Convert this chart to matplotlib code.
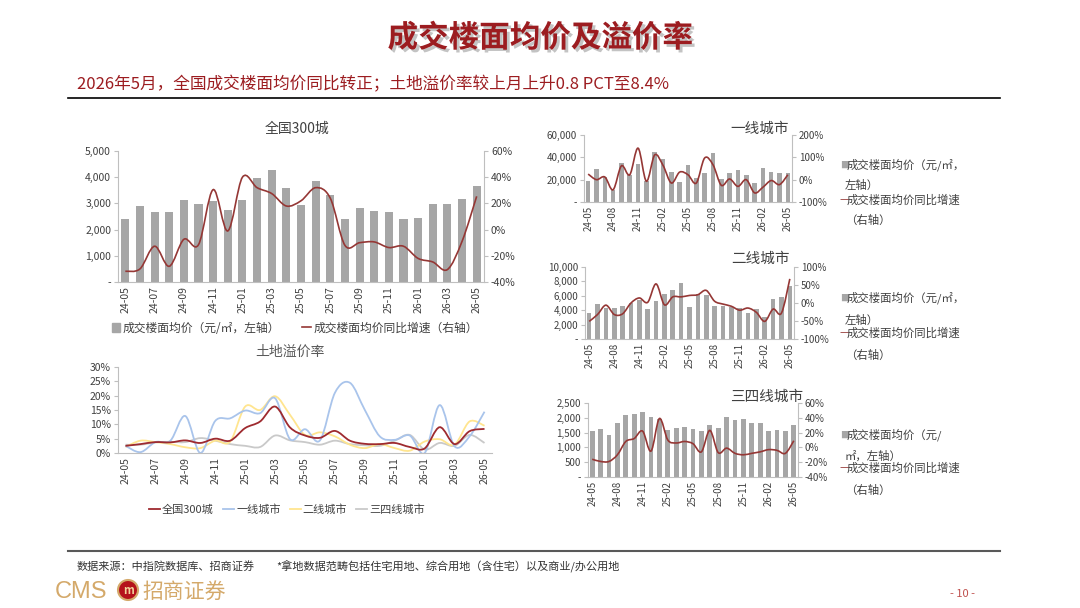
import numpy as np
import matplotlib.pyplot as plt
import matplotlib.patheffects as pe
from matplotlib.path import Path
from matplotlib.patches import PathPatch, Patch, Ellipse
from matplotlib.lines import Line2D

plt.rcParams['font.family'] = ['Noto Sans CJK SC', 'DejaVu Sans']

W, H = 1080, 608

months = ['24-05', '24-06', '24-07', '24-08', '24-09', '24-10', '24-11', '24-12',
          '25-01', '25-02', '25-03', '25-04', '25-05', '25-06', '25-07', '25-08',
          '25-09', '25-10', '25-11', '25-12', '26-01', '26-02', '26-03', '26-04', '26-05']

# 全国300城
nat_price = [2390, 2900, 2680, 2680, 3130, 2980, 3090, 2750, 3140, 3960, 4290, 3590, 2930,
             3850, 3310, 2390, 2820, 2700, 2660, 2390, 2460, 2980, 2980, 3180, 3660]
nat_yoy = [-31.8, -30, -12.7, -28, -7.4, -11.5, 30.5, -1, 40, 32, 27.5, 18, 22,
           32, 24, -12, -10, -9.4, -13.7, -12.7, -22, -24.7, -30.5, -9, 25.4]

# 一线城市
t1_price = [18400, 29700, 22000, 11000, 34800, 24400, 33900, 19000, 44600, 38600, 27300, 17800, 33300,
            21400, 25900, 43700, 20800, 25900, 28800, 23800, 17000, 30300, 27300, 25900, 25900]
t1_yoy = [25, 0, 12, -45, 62, 22, 141, -7, 111, 64, -15, 34, 22,
          -15, 97, 67, -25, 3, -30, 0, -59, -34, -4, -22, 22]

# 二线城市
t2_price = [3600, 4860, 4300, 4300, 4630, 5000, 5370, 4170, 5320, 6300, 6760, 7780, 4400,
            6200, 6100, 4540, 4540, 4440, 4300, 3600, 4100, 3050, 5600, 5830, 7400]
t2_yoy = [-51, -32, -6, -32, -30, 0, 14, 2, 53, -5, 17, 17, 21,
          23, 35, 5, -3, -9, -20, -14, -26, -51, -17, -28, 67]

# 三四线城市
t3_price = [1560, 1625, 1420, 1820, 2080, 2125, 2200, 2030, 1950, 1590, 1670, 1700, 1625,
            1540, 1750, 1670, 2030, 1920, 1965, 1820, 1840, 1560, 1590, 1560, 1750]
t3_yoy = [-16, -19, -19, -10, 8, 12, 22, -5, 39, 10, 6, 8, 5,
          -6, 23, -7, -1, -8, -10, -8, -6, -3, -4, -8, 9]

# 土地溢价率 (%)
prem_nat = [2.5, 3.1, 3.8, 3.7, 4.4, 3.5, 5.0, 4.3, 8.7, 11.0, 16.2, 8.9, 6.1,
            5.3, 7.7, 4.3, 3.2, 3.1, 3.5, 2.1, 1.6, 9.0, 3.1, 7.6, 8.4]
prem_t1 = [2.5, 0.3, 3.8, 4.3, 12.9, 0.0, 11.2, 12.1, 14.8, 13.9, 19.1, 4.8, 8.3,
           4.4, 21.0, 24.5, 15.0, 5.8, 4.6, 6.1, 0.0, 16.7, 2.3, 5.8, 14.4]
prem_t2 = [2.1, 4.3, 3.8, 3.1, 2.0, 1.7, 4.3, 4.0, 16.2, 15.0, 19.8, 13.3, 6.3,
           7.2, 5.8, 2.9, 1.7, 3.1, 1.7, 0.8, 4.0, 4.8, 2.9, 11.0, 9.5]
prem_t3 = [2.9, 2.9, 3.7, 3.9, 3.8, 5.2, 4.3, 3.1, 2.5, 2.1, 6.1, 4.4, 3.8,
           2.9, 4.3, 3.1, 2.7, 2.5, 4.3, 6.3, 1.2, 3.5, 2.5, 6.3, 3.5]

BAR = '#A6A6A6'
RED = '#953735'
TXT = '#404040'
SPINE = '#BFBFBF'


def rect(l, t, r, b):
    return [l / W, 1 - b / H, (r - l) / W, (b - t) / H]


def fx(x):
    return x / W


def fy(y):
    return 1 - y / H


def smooth_path(x, y):
    # Excel-style smoothed line drawn as cubic Bezier through the data points
    pts = np.column_stack([x, y]).astype(float)
    p = np.vstack([pts[0], pts, pts[-1]])
    verts = [pts[0]]
    codes = [Path.MOVETO]
    for i in range(len(pts) - 1):
        p0, p1, p2, p3 = p[i], p[i + 1], p[i + 2], p[i + 3]
        verts += [p1 + (p2 - p0) / 6, p2 - (p3 - p1) / 6, p2]
        codes += [Path.CURVE4] * 3
    return Path(verts, codes)


def style(ax, fs):
    for s in ['top', 'right']:
        ax.spines[s].set_visible(False)
    for s in ['left', 'bottom']:
        ax.spines[s].set_color(SPINE)
    ax.tick_params(axis='y', colors=SPINE, labelcolor=TXT, labelsize=fs, length=3, pad=2)
    ax.tick_params(axis='x', length=0, labelcolor=TXT, labelsize=fs, pad=3)


def bar_line(box, price, yoy, lticks, rticks, step, fs):
    ax = fig.add_axes(rect(*box))
    x = np.arange(len(months))
    ax.bar(x, price, width=0.55, color=BAR)
    ax.set_xlim(-0.5, len(months) - 0.5)
    ax.set_ylim(lticks[0], lticks[-1])
    ax.set_yticks(lticks)
    ax.set_yticklabels(['-' if v == 0 else f'{v:,}' for v in lticks])
    ax.set_xticks(x[::step])
    ax.set_xticklabels(months[::step], rotation=90)
    style(ax, fs)
    ax2 = ax.twinx()
    ax2.add_patch(PathPatch(smooth_path(x, yoy), fill=False, edgecolor=RED, lw=1.2))
    ax2.set_ylim(rticks[0], rticks[-1])
    ax2.set_yticks(rticks)
    ax2.set_yticklabels([f'{v}%' for v in rticks])
    for s in ['top', 'left', 'bottom']:
        ax2.spines[s].set_visible(False)
    ax2.spines['right'].set_color(SPINE)
    ax2.tick_params(axis='y', colors=SPINE, labelcolor=TXT, labelsize=fs, length=3, pad=2)
    return ax, ax2


fig = plt.figure(figsize=(10.8, 6.08), dpi=100)

# header
fig.text(0.5, fy(38), '成交楼面均价及溢价率', ha='center', va='center', fontsize=22,
         fontweight='bold', color='#9C1C20',
         path_effects=[pe.withSimplePatchShadow(offset=(2, -2), shadow_rgbFace='#888888', alpha=0.5)])
fig.text(fx(77), fy(85), '2026年5月，全国成交楼面均价同比转正；土地溢价率较上月上升0.8 PCT至8.4%',
         ha='left', va='center', fontsize=12, color='#9C1C20')
fig.add_artist(Line2D([fx(68), fx(1000)], [fy(98), fy(98)], color='black', lw=1.2))

# 全国300城
ax, ax2 = bar_line((118, 151, 484, 282), nat_price, nat_yoy,
                   [0, 1000, 2000, 3000, 4000, 5000], [-40, -20, 0, 20, 40, 60], 2, 7.5)
fig.text(fx(297), fy(129), '全国300城', ha='center', va='center', fontsize=10, color=TXT)
ax.legend([Patch(color=BAR), Line2D([], [], color=RED, lw=1.2)],
          ['成交楼面均价（元/㎡，左轴）', '成交楼面均价同比增速（右轴）'],
          ncol=2, loc='center left', bbox_to_anchor=(fx(112), fy(328)),
          bbox_transform=fig.transFigure, frameon=False, fontsize=8.5,
          handlelength=0.7, handleheight=0.7, handletextpad=0.2, columnspacing=1.9,
          borderpad=0, borderaxespad=0, labelcolor=TXT)

# 土地溢价率
axp = fig.add_axes(rect(118, 367, 492, 453))
x = np.arange(len(months))
series = [(prem_nat, '#9E2A2F', '全国300城'), (prem_t1, '#A9C4EB', '一线城市'),
          (prem_t2, '#FFE58F', '二线城市'), (prem_t3, '#C9C9C9', '三四线城市')]
for vals, c, name in series[::-1]:
    axp.add_patch(PathPatch(smooth_path(x, vals), fill=False, edgecolor=c, lw=1.3))
axp.set_xlim(-0.5, len(months) - 0.5)
axp.set_ylim(0, 30)
axp.set_yticks([0, 5, 10, 15, 20, 25, 30])
axp.set_yticklabels([f'{v}%' for v in [0, 5, 10, 15, 20, 25, 30]])
axp.set_xticks(x[::2])
axp.set_xticklabels(months[::2], rotation=90)
style(axp, 7.5)
fig.text(fx(290), fy(352), '土地溢价率', ha='center', va='center', fontsize=10, color='#595959')
axp.legend([Line2D([], [], color=c, lw=1.3) for _, c, _ in series], [n for _, _, n in series],
           ncol=4, loc='center', bbox_to_anchor=(fx(287), fy(510)), bbox_transform=fig.transFigure,
           frameon=False, fontsize=8, handlelength=1.0, handletextpad=0.2, columnspacing=0.8,
           borderpad=0, borderaxespad=0, labelcolor=TXT)

# right-hand charts
right = [
    ((584, 135, 792, 202), t1_price, t1_yoy, [0, 20000, 40000, 60000], [-100, 0, 100, 200],
     '一线城市', 760, 129, ['成交楼面均价（元/㎡，', '左轴）'], [165, 185, 200, 220]),
    ((585, 267, 794, 339), t2_price, t2_yoy, [0, 2000, 4000, 6000, 8000, 10000], [-100, -50, 0, 50, 100],
     '二线城市', 760, 259, ['成交楼面均价（元/㎡，', '左轴）'], [298, 320, 333, 355]),
    ((588, 403, 798, 477), t3_price, t3_yoy, [0, 500, 1000, 1500, 2000, 2500], [-40, -20, 0, 20, 40, 60],
     '三四线城市', 767, 397, ['成交楼面均价（元/', '㎡，左轴）'], [435, 456, 468, 490]),
]
for box, pr, yy, lt, rt, title, tx, ty, lab, ys in right:
    bar_line(box, pr, yy, lt, rt, 3, 7)
    fig.text(fx(tx), fy(ty), title, ha='center', va='center', fontsize=10.5, color=TXT)
    fig.text(fx(840), fy(ys[0]), '■', ha='left', va='center', fontsize=6.5, color=BAR)
    fig.text(fx(847), fy(ys[0]), lab[0], ha='left', va='center', fontsize=8.2, color=TXT)
    fig.text(fx(845), fy(ys[1]), lab[1], ha='left', va='center', fontsize=8.2, color=TXT)
    fig.text(fx(839), fy(ys[2]), '—', ha='left', va='center', fontsize=8, color=RED)
    fig.text(fx(847), fy(ys[2]), '成交楼面均价同比增速', ha='left', va='center', fontsize=8.2, color=TXT)
    fig.text(fx(845), fy(ys[3]), '（右轴）', ha='left', va='center', fontsize=8.2, color=TXT)

# footer
fig.add_artist(Line2D([fx(68), fx(1000)], [fy(551), fy(551)], color='#595959', lw=1.5))
fig.text(fx(77), fy(566), '数据来源：中指院数据库、招商证券', ha='left', va='center', fontsize=8, color='#333333')
fig.text(fx(276), fy(566), '*拿地数据范畴包括住宅用地、综合用地（含住宅）以及商业/办公用地',
         ha='left', va='center', fontsize=8, color='#333333')
fig.text(fx(55), fy(592), 'CMS', ha='left', va='center', fontsize=17, color='#D4A96A',
         family=['Liberation Sans', 'DejaVu Sans'])
fig.add_artist(Ellipse((fx(128), fy(590)), 20 / W, 20 / H, transform=fig.transFigure,
                       facecolor='#B5121B', edgecolor='#D4A96A', lw=1.5))
fig.text(fx(128), fy(590), 'm', ha='center', va='center', fontsize=8, color='#F2D49B', fontweight='bold')
fig.text(fx(142), fy(592), '招商证券', ha='left', va='center', fontsize=15, color='#D4A96A')
fig.text(fx(962), fy(594), '- 10 -', ha='center', va='center', fontsize=8, color='#C0504D')

fig.savefig('out.png', dpi=100)
